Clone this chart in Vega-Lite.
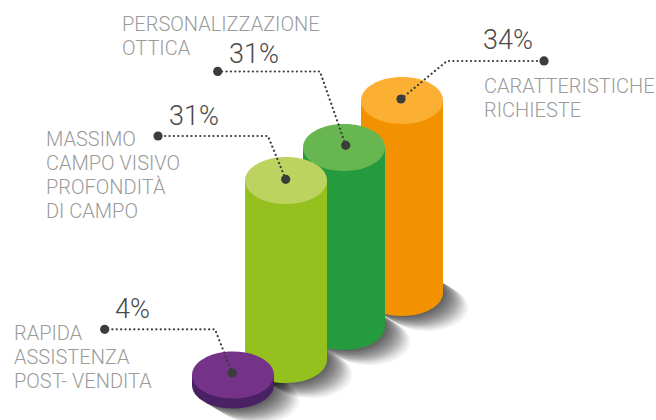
{
"$schema":"https://vega.github.io/schema/vega-lite/v6.json",
"width":656,"height":420,"padding":0,
"autosize":"none",
"background":"#ffffff",
"config":{"view":{"stroke":null},"scale":{"continuousPadding":0}},
"datasets":{
"cylinders":[
{"category":"Caratteristiche richieste","value":0.34,"cx":61.28,"base":30.36,"top":76.07,"caption":"CARATTERISTICHE\nRICHIESTE","captionX":73.78,"captionY":77.86,"pctX":73.63,"pctY":88.33},
{"category":"Personalizzazione ottica","value":0.31,"cx":52.44,"base":22.26,"top":64.88,"caption":"PERSONALIZZAZIONE\nOTTICA","captionX":18.6,"captionY":92.69,"pctX":34.91,"pctY":85.07},
{"category":"Massimo campo visivo","value":0.31,"cx":43.6,"base":14.4,"top":57.02,"caption":"MASSIMO\nCAMPO VISIVO\nPROFONDITÀ\nDI CAMPO","captionX":7.01,"captionY":65.24,"pctX":25.76,"pctY":70.24},
{"category":"Rapida assistenza","value":0.04,"cx":35.52,"base":8.33,"top":10.71,"caption":"RAPIDA\nASSISTENZA\nPOST- VENDITA","captionX":2.13,"captionY":19.05,"pctX":17.53,"pctY":24.21}
],
"leaders":[
{"category":"Caratteristiche richieste","stop":0,"lx":61.13,"ly":76.43},
{"category":"Caratteristiche richieste","stop":1,"lx":68.14,"ly":85.48},
{"category":"Caratteristiche richieste","stop":2,"lx":82.93,"ly":85.48},
{"category":"Personalizzazione ottica","stop":0,"lx":52.7,"ly":65.4},
{"category":"Personalizzazione ottica","stop":1,"lx":48.78,"ly":82.98},
{"category":"Personalizzazione ottica","stop":2,"lx":33.19,"ly":82.98},
{"category":"Massimo campo visivo","stop":0,"lx":43.55,"ly":57.31},
{"category":"Massimo campo visivo","stop":1,"lx":40.85,"ly":67.62},
{"category":"Massimo campo visivo","stop":2,"lx":24.09,"ly":67.62},
{"category":"Rapida assistenza","stop":0,"lx":35.41,"ly":11.19},
{"category":"Rapida assistenza","stop":1,"lx":32.77,"ly":21.6},
{"category":"Rapida assistenza","stop":2,"lx":15.96,"ly":21.6}
]},
"encoding":{
"x":{"field":"cx","type":"quantitative","scale":{"domain":[0,100],"nice":false,"zero":false,"padding":0},"axis":null},
"y":{"field":"base","type":"quantitative","scale":{"domain":[0,100],"nice":false,"zero":false},"axis":null}
},
"layer":[
{"data":{"name":"cylinders"},"mark":{"type":"point","filled":true,"size":6724,"color":"#000000","opacity":0.08,"strokeWidth":0,"shape":"M.722,-.397L.774,-.366A1,.573 0 0 1 -.67,.428L-.722,.397Z"}},
{"data":{"name":"cylinders"},"mark":{"type":"point","filled":true,"size":6724,"color":"#000000","opacity":0.08,"strokeWidth":0,"shape":"M.722,-.397L.825,-.335A1,.573 0 0 1 -.619,.459L-.722,.397Z"}},
{"data":{"name":"cylinders"},"mark":{"type":"point","filled":true,"size":6724,"color":"#000000","opacity":0.08,"strokeWidth":0,"shape":"M.722,-.397L.877,-.305A1,.573 0 0 1 -.567,.489L-.722,.397Z"}},
{"data":{"name":"cylinders"},"mark":{"type":"point","filled":true,"size":6724,"color":"#000000","opacity":0.08,"strokeWidth":0,"shape":"M.722,-.397L.929,-.274A1,.573 0 0 1 -.515,.52L-.722,.397Z"}},
{"data":{"name":"cylinders"},"mark":{"type":"point","filled":true,"size":6724,"color":"#000000","opacity":0.08,"strokeWidth":0,"shape":"M.722,-.397L.98,-.243A1,.573 0 0 1 -.464,.551L-.722,.397Z"}},
{"data":{"name":"cylinders"},"mark":{"type":"point","filled":true,"size":6724,"color":"#000000","opacity":0.08,"strokeWidth":0,"shape":"M.722,-.397L1.032,-.212A1,.573 0 0 1 -.412,.582L-.722,.397Z"}},
{"data":{"name":"cylinders"},"mark":{"type":"point","filled":true,"size":6724,"color":"#000000","opacity":0.08,"strokeWidth":0,"shape":"M.722,-.397L1.084,-.181A1,.573 0 0 1 -.36,.613L-.722,.397Z"}},
{"data":{"name":"cylinders"},"mark":{"type":"point","filled":true,"size":6724,"color":"#000000","opacity":0.08,"strokeWidth":0,"shape":"M.722,-.397L1.135,-.15A1,.573 0 0 1 -.309,.644L-.722,.397Z"}},
{"data":{"name":"cylinders"},"mark":{"type":"point","filled":true,"size":6724,"color":"#000000","opacity":0.07,"strokeWidth":0,"shape":"M.722,-.397L1.187,-.12A1,.573 0 0 1 -.257,.674L-.722,.397Z"}},
{"data":{"name":"cylinders"},"mark":{"type":"point","filled":true,"size":6724,"color":"#000000","opacity":0.06,"strokeWidth":0,"shape":"M.722,-.397L1.239,-.089A1,.573 0 0 1 -.205,.705L-.722,.397Z"}},
{"data":{"name":"cylinders"},"mark":{"type":"point","filled":true,"size":6724,"color":"#000000","opacity":0.05,"strokeWidth":0,"shape":"M.722,-.397L1.29,-.058A1,.573 0 0 1 -.154,.736L-.722,.397Z"}},
{"data":{"name":"cylinders"},"mark":{"type":"point","filled":true,"size":6724,"color":"#000000","opacity":0.04,"strokeWidth":0,"shape":"M.722,-.397L1.342,-.027A1,.573 0 0 1 -.102,.767L-.722,.397Z"}},
{"data":{"name":"cylinders"},"mark":{"type":"point","filled":true,"size":6724,"opacity":1,"strokeWidth":0,"shape":"M-1,0A1,.573 0 1 1 1,0A1,.573 0 1 1 -1,0Z"},
 "encoding":{"color":{"field":"category","type":"nominal","legend":null,"scale":{"domain":["Caratteristiche richieste","Personalizzazione ottica","Massimo campo visivo","Rapida assistenza"],"range":["#f39200","#259b3e","#95c11f","#4a2164"]}}}},
{"data":{"name":"cylinders"},"mark":{"type":"bar","size":82,"orient":"vertical"},
 "encoding":{"y":{"field":"top","type":"quantitative","scale":{"domain":[0,100],"nice":false,"zero":false},"axis":null},"y2":{"field":"base"},
 "color":{"field":"category","type":"nominal","legend":null,"scale":{"domain":["Caratteristiche richieste","Personalizzazione ottica","Massimo campo visivo","Rapida assistenza"],"range":["#f39200","#259b3e","#95c11f","#4a2164"]}}}},
{"data":{"name":"cylinders"},"mark":{"type":"point","filled":true,"size":6724,"opacity":1,"strokeWidth":0,"shape":"M-1,0A1,.573 0 1 1 1,0A1,.573 0 1 1 -1,0Z"},
 "encoding":{"y":{"field":"top","type":"quantitative","scale":{"domain":[0,100],"nice":false,"zero":false},"axis":null},
 "color":{"field":"category","type":"nominal","legend":null,"scale":{"domain":["Caratteristiche richieste","Personalizzazione ottica","Massimo campo visivo","Rapida assistenza"],"range":["#fbb034","#68b650","#bdd35f","#743289"]}}}},
{"data":{"name":"leaders"},"mark":{"type":"line","color":"#3c3c3b","strokeWidth":2.2,"strokeCap":"round","strokeDash":[0.1,4.3],"interpolate":"linear"},
 "encoding":{"x":{"field":"lx","type":"quantitative","scale":{"domain":[0,100],"nice":false,"zero":false,"padding":0},"axis":null},"y":{"field":"ly","type":"quantitative","scale":{"domain":[0,100],"nice":false,"zero":false},"axis":null},"detail":{"field":"category"},"order":{"field":"stop"}}},
{"data":{"name":"leaders"},"transform":[{"filter":"datum.stop !== 1"}],"mark":{"type":"point","filled":true,"size":85,"color":"#3c3c3b","opacity":1,"strokeWidth":0},
 "encoding":{"x":{"field":"lx","type":"quantitative","scale":{"domain":[0,100],"nice":false,"zero":false,"padding":0},"axis":null},"y":{"field":"ly","type":"quantitative","scale":{"domain":[0,100],"nice":false,"zero":false},"axis":null}}},
{"data":{"name":"cylinders"},"mark":{"type":"text","align":"left","baseline":"alphabetic","font":"Roboto","fontWeight":300,"fontSize":20,"lineHeight":24,"lineBreak":"\n","color":"#9a9b9b"},
 "encoding":{"x":{"field":"captionX","type":"quantitative","scale":{"domain":[0,100],"nice":false,"zero":false,"padding":0},"axis":null},"y":{"field":"captionY","type":"quantitative","scale":{"domain":[0,100],"nice":false,"zero":false},"axis":null},"text":{"field":"caption"}}},
{"data":{"name":"cylinders"},"mark":{"type":"text","align":"left","baseline":"alphabetic","font":"Roboto","fontWeight":300,"fontSize":27,"color":"#4a4a49"},
 "encoding":{"x":{"field":"pctX","type":"quantitative","scale":{"domain":[0,100],"nice":false,"zero":false,"padding":0},"axis":null},"y":{"field":"pctY","type":"quantitative","scale":{"domain":[0,100],"nice":false,"zero":false},"axis":null},"text":{"field":"value","type":"quantitative","format":".0%"}}}
],
"resolve":{"scale":{"color":"independent"}}
}
